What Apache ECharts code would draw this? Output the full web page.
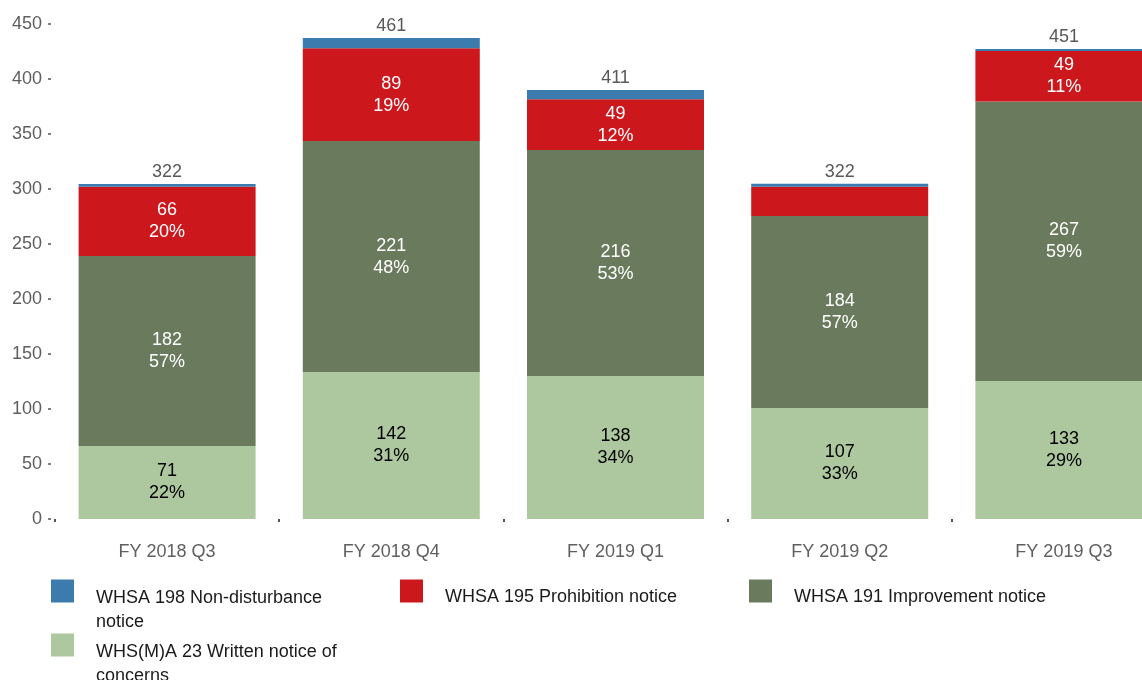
<!DOCTYPE html>
<html>
<head>
<meta charset="utf-8">
<script src="https://cdn.jsdelivr.net/npm/echarts@6/dist/echarts.min.js"></script>
<style>
  html, body { margin: 0; padding: 0; background: #fff; }
  #main { width: 1142px; height: 680px; }
</style>
</head>
<body>
<div id="main"></div>
<script>
var categories = ['FY 2018 Q3', 'FY 2018 Q4', 'FY 2019 Q1', 'FY 2019 Q2', 'FY 2019 Q3'];

// bar heights as drawn on the axis
var writtenHeights = [66.4, 133.6, 130, 101, 125.5];
var improvementHeights = [172.6, 210, 205.5, 174.5, 254];
var prohibitionHeights = [63, 84.4, 46, 26.5, 46];
var nonDisturbHeights = [2.5, 9.3, 8.5, 2.8, 1.8];

// label texts printed on the bars
var writtenCounts = [71, 142, 138, 107, 133];
var writtenPct = [22, 31, 34, 33, 29];
var improvementCounts = [182, 221, 216, 184, 267];
var improvementPct = [57, 48, 53, 57, 59];
var prohibitionCounts = [66, 89, 49, null, 49];
var prohibitionPct = [20, 19, 12, null, 11];
var totals = [322, 461, 411, 322, 451];

var names = [
  'WHSA 198 Non-disturbance notice',
  'WHSA 195 Prohibition notice',
  'WHSA 191 Improvement notice',
  'WHS(M)A 23 Written notice of concerns'
];
// how the legend text wraps
var legendLines = [
  ['WHSA 198 Non-disturbance', 'notice'],
  ['WHSA 195 Prohibition notice'],
  ['WHSA 191 Improvement notice'],
  ['WHS(M)A 23 Written notice of', 'concerns']
];

var FONT = '"Liberation Sans", Arial, sans-serif';

function segLabel(counts, pct, color) {
  return {
    show: true,
    position: 'inside',
    color: color,
    fontFamily: FONT,
    fontSize: 18,
    lineHeight: 22,
    formatter: function (p) {
      var c = counts[p.dataIndex];
      if (c == null) return '';
      return c + '\n' + pct[p.dataIndex] + '%';
    }
  };
}

function legendBox(i, left, top) {
  var lines = legendLines[i];
  // spacer line pushes the first text line level with the square
  var spacer = lines.length > 1 ? 38 : 12;
  return {
    data: [names[i]],
    left: left,
    top: top,
    padding: 0,
    icon: 'rect',
    itemWidth: 23,
    itemHeight: 23,
    selectedMode: false,
    formatter: function () {
      return '{s| }\n' + lines.map(function (l) { return '{a|' + l + '}'; }).join('\n');
    },
    textStyle: {
      fontFamily: FONT,
      fontSize: 18,
      color: '#1a1a1a',
      padding: [0, 0, 0, 17],
      rich: {
        s: { fontSize: 2, lineHeight: spacer },
        a: { fontFamily: FONT, fontSize: 18, color: '#1a1a1a', lineHeight: 24 }
      }
    }
  };
}

var chart = echarts.init(document.getElementById('main'));

var option = {
  animation: false,
  backgroundColor: '#ffffff',
  grid: { left: 55, right: -34, top: 24, bottom: 161, outerBoundsMode: 'none' },
  legend: [
    legendBox(0, 51, 566),
    legendBox(1, 400, 578),
    legendBox(2, 749, 578),
    legendBox(3, 51, 620)
  ],
  xAxis: {
    type: 'category',
    data: categories,
    offset: 9,
    axisLine: { show: false },
    axisTick: { show: true, length: 3, lineStyle: { color: '#555', width: 2 } },
    axisLabel: { color: '#5f5f5f', fontFamily: FONT, fontSize: 18, margin: 15 }
  },
  yAxis: {
    type: 'value',
    min: 0,
    max: 450,
    interval: 50,
    offset: 4,
    axisLine: { show: false },
    axisTick: { show: true, length: 3, lineStyle: { color: '#555', width: 1.5 } },
    splitLine: { show: false },
    axisLabel: { color: '#5f5f5f', fontFamily: FONT, fontSize: 18, margin: 9 }
  },
  series: [
    {
      name: names[3],
      type: 'bar',
      stack: 'total',
      barWidth: 177,
      itemStyle: { color: '#adc79e' },
      label: segLabel(writtenCounts, writtenPct, '#000000'),
      data: writtenHeights
    },
    {
      name: names[2],
      type: 'bar',
      stack: 'total',
      barWidth: 177,
      itemStyle: { color: '#697b5c' },
      label: segLabel(improvementCounts, improvementPct, '#ffffff'),
      data: improvementHeights
    },
    {
      name: names[1],
      type: 'bar',
      stack: 'total',
      barWidth: 177,
      itemStyle: { color: '#cc171d' },
      label: segLabel(prohibitionCounts, prohibitionPct, '#ffffff'),
      data: prohibitionHeights
    },
    {
      name: names[0],
      type: 'bar',
      stack: 'total',
      barWidth: 177,
      itemStyle: { color: '#3c7bae' },
      label: {
        show: true,
        position: 'top',
        distance: 3,
        color: '#595959',
        fontFamily: FONT,
        fontSize: 18,
        formatter: function (p) { return String(totals[p.dataIndex]); }
      },
      data: nonDisturbHeights
    }
  ]
};

chart.setOption(option);
</script>
</body>
</html>
